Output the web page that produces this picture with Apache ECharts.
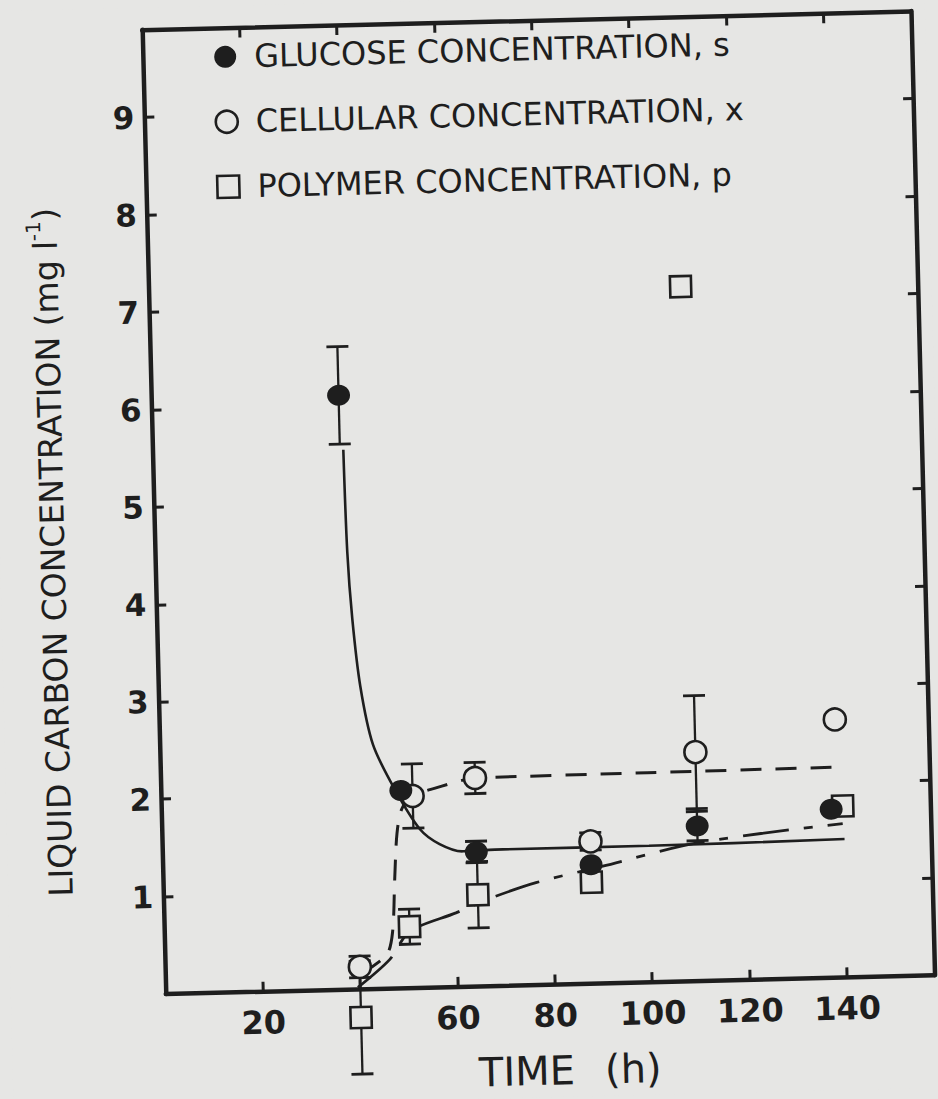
<!DOCTYPE html>
<html>
<head>
<meta charset="utf-8">
<script src="https://cdn.jsdelivr.net/npm/echarts@6/dist/echarts.min.js"></script>
<style>
html,body{margin:0;padding:0;background:#e6e6e4;overflow:hidden;}
#c{width:938px;height:1099px;transform:rotate(-1.4deg);transform-origin:50% 50%;}
</style>
</head>
<body>
<div id="c"></div>
<script>
// ---------- data ----------
const xHiddenLabels = [0, 40];
const yHiddenLabels = [0];

// glucose concentration, s (filled circles)
const glucoseTime = [38.5, 49.3, 64.5, 88, 110, 137.6];
const glucoseConc = [6.10, 2.03, 1.38, 1.22, 1.59, 1.73];
const glucoseErr  = [0.50, 0, 0.11, 0, 0.15, 0];

// cellular concentration, x (open circles)
const cellTime = [40, 51.7, 64.6, 88, 110, 138.8];
const cellConc = [0.23, 1.97, 2.14, 1.46, 2.35, 2.65];
const cellErr  = [0.11, 0.33, 0.16, 0.09, 0.58, 0];

// polymer concentration, p (open squares)
const polyTime = [40, 50.4, 64.6, 88, 109.3, 140];
const polyConc = [-0.29, 0.63, 0.94, 1.04, 7.13, 1.76];
const polyErr  = [0.58, 0.18, 0.34, 0, 0, 0];

// fitted curves
const glucoseCurveTime = [39.2, 39.5, 40.2, 41.5, 43.8, 48.1, 53.0, 57.0, 61.7, 70, 100, 140.2];
const glucoseCurveConc = [5.54, 4.49, 3.80, 3.11, 2.51, 2.04, 1.63, 1.47, 1.39, 1.40, 1.40, 1.42];

const cellCurveTime = [40.6, 45.6, 46.9, 47.6, 48.3, 49.4, 51.7, 56.7, 62.9, 64.6, 100, 139.2];
const cellCurveConc = [0.17, 0.35, 0.58, 1.12, 1.59, 1.84, 1.97, 2.05, 2.13, 2.14, 2.15, 2.16];

const polyCurveTime = [39.5, 46.2, 50.4, 60, 66.5, 76.6, 90.2, 110.2, 139.9];
const polyCurveConc = [0.02, 0.30, 0.58, 0.76, 0.89, 1.05, 1.20, 1.42, 1.58];

const legendNames = ['GLUCOSE CONCENTRATION, s', 'CELLULAR CONCENTRATION, x', 'POLYMER CONCENTRATION, p'];

// ---------- styling ----------
const INK = '#1e1e1e';
const BG = '#e6e6e4';
const FONT = "'DejaVu Sans', 'Liberation Sans', sans-serif";

const zip = (a, b) => a.map((v, i) => [v, b[i]]);
const errData = (t, v, e) => t.map((x, i) => [x, v[i] - e[i], v[i] + e[i]]).filter((d, i) => e[i] > 0);

function errRender(params, api) {
  const x = api.value(0);
  const lo = api.coord([x, api.value(1)]);
  const hi = api.coord([x, api.value(2)]);
  const w = 11;
  return {
    type: 'group',
    children: [
      { type: 'line', shape: { x1: lo[0], y1: lo[1], x2: hi[0], y2: hi[1] }, style: { stroke: INK, lineWidth: 2.3 } },
      { type: 'line', shape: { x1: lo[0] - w, y1: lo[1], x2: lo[0] + w, y2: lo[1] }, style: { stroke: INK, lineWidth: 2.8 } },
      { type: 'line', shape: { x1: hi[0] - w, y1: hi[1], x2: hi[0] + w, y2: hi[1] }, style: { stroke: INK, lineWidth: 2.8 } }
    ]
  };
}

const axisLineStyle = { onZero: false, lineStyle: { color: INK, width: 4.5 } };
const tickStyle = { inside: true, length: 10, lineStyle: { color: INK, width: 3 } };

const chart = echarts.init(document.getElementById('c'), null, { renderer: 'svg' });
chart.setOption({
  animation: false,
  backgroundColor: BG,
  grid: { left: 155, top: 22, right: 14, bottom: 112.5 },
  legend: {
    orient: 'vertical',
    left: 220,
    top: 30,
    itemWidth: 22,
    itemHeight: 22,
    itemGap: 33,
    selectedMode: false,
    textStyle: { fontFamily: FONT, fontSize: 32, color: INK, padding: [0, 0, 0, 13] },
    data: [
      { name: legendNames[0], icon: 'circle', itemStyle: { color: INK, borderWidth: 0 } },
      { name: legendNames[1], icon: 'circle', itemStyle: { color: BG, borderColor: INK, borderWidth: 2.6 } },
      { name: legendNames[2], icon: 'rect', itemStyle: { color: BG, borderColor: INK, borderWidth: 2.6 } }
    ]
  },
  xAxis: [
    {
      type: 'value', min: 0, max: 158, interval: 20, position: 'bottom',
      axisLine: axisLineStyle, axisTick: tickStyle, splitLine: { show: false },
      axisLabel: {
        margin: 15, color: INK, fontFamily: FONT, fontWeight: 'bold', fontSize: 32,
        showMaxLabel: false,
        formatter: v => (xHiddenLabels.includes(v) ? '' : String(v))
      },
      name: '{t|TIME}{h|(h)}', nameLocation: 'middle', nameGap: 66,
      nameTextStyle: {
        padding: [0, 0, 0, 36],
        rich: {
          t: { fontFamily: FONT, fontSize: 40, color: INK },
          h: { fontFamily: FONT, fontSize: 40, color: INK, padding: [0, 0, 0, 30] }
        }
      }
    },
    {
      type: 'value', min: 0, max: 158, interval: 20, position: 'top',
      axisLine: axisLineStyle, axisTick: tickStyle, splitLine: { show: false },
      axisLabel: { show: false }
    }
  ],
  yAxis: [
    {
      type: 'value', min: 0, max: 9.9, interval: 1, position: 'left',
      axisLine: axisLineStyle, axisTick: tickStyle, splitLine: { show: false },
      axisLabel: {
        margin: 10, color: INK, fontFamily: FONT, fontWeight: 'bold', fontSize: 31,
        showMaxLabel: false,
        formatter: v => (yHiddenLabels.includes(v) ? '' : String(v))
      },
      name: '{t|LIQUID CARBON CONCENTRATION (mg l}{s|-1}{t|)}',
      nameLocation: 'middle', nameGap: 80,
      nameTextStyle: {
        padding: [0, 76, 0, 0],
        rich: {
          t: { fontFamily: FONT, fontSize: 33, color: INK },
          s: { fontFamily: FONT, fontSize: 20, color: INK, padding: [0, 0, 24, 0] }
        }
      }
    },
    {
      type: 'value', min: 0, max: 9.9, interval: 1, position: 'right',
      axisLine: axisLineStyle, axisTick: tickStyle, splitLine: { show: false },
      axisLabel: { show: false }
    }
  ],
  series: [
    {
      type: 'line', name: 'glucose fit', data: zip(glucoseCurveTime, glucoseCurveConc),
      symbol: 'none', smooth: 0.3, z: 1,
      lineStyle: { color: INK, width: 2.6 }
    },
    {
      type: 'line', name: 'cellular fit', data: zip(cellCurveTime, cellCurveConc),
      symbol: 'none', smooth: 0.3, z: 1,
      lineStyle: { color: INK, width: 3, type: [21, 14] }
    },
    {
      type: 'line', name: 'polymer fit', data: zip(polyCurveTime, polyCurveConc),
      symbol: 'none', smooth: 0.3, z: 1,
      lineStyle: { color: INK, width: 2.8, type: [46, 15, 9, 15] }
    },
    { type: 'custom', name: 'glucose err', data: errData(glucoseTime, glucoseConc, glucoseErr), renderItem: errRender, encode: { x: 0, y: [1, 2] }, clip: false, z: 2 },
    { type: 'custom', name: 'cell err', data: errData(cellTime, cellConc, cellErr), renderItem: errRender, encode: { x: 0, y: [1, 2] }, clip: false, z: 2 },
    { type: 'custom', name: 'poly err', data: errData(polyTime, polyConc, polyErr), renderItem: errRender, encode: { x: 0, y: [1, 2] }, clip: false, z: 2 },
    {
      type: 'scatter', name: legendNames[2], data: zip(polyTime, polyConc),
      symbol: 'rect', symbolSize: 21, clip: false, z: 3,
      itemStyle: { color: BG, borderColor: INK, borderWidth: 2.6, opacity: 1 }
    },
    {
      type: 'scatter', name: legendNames[1], data: zip(cellTime, cellConc),
      symbol: 'circle', symbolSize: 22, clip: false, z: 4,
      itemStyle: { color: BG, borderColor: INK, borderWidth: 2.6, opacity: 1 }
    },
    {
      type: 'scatter', name: legendNames[0], data: zip(glucoseTime, glucoseConc),
      symbol: 'circle', symbolSize: [23, 21], clip: false, z: 5,
      itemStyle: { color: INK, opacity: 1 }
    }
  ]
});
</script>
</body>
</html>
